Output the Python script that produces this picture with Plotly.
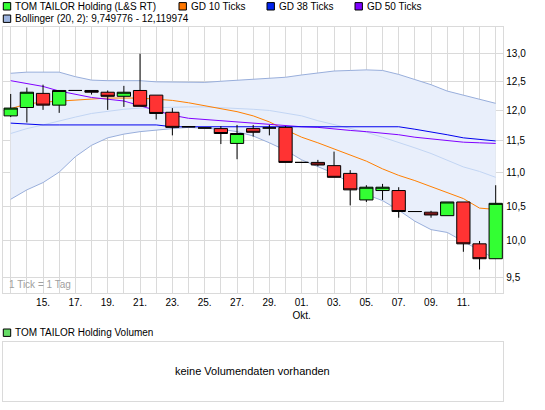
import math
import plotly.graph_objects as go

# trading days shown (1 tick = 1 day)
days = ["13.09", "14.09", "15.09", "16.09", "17.09", "18.09", "19.09", "20.09",
        "21.09", "22.09", "23.09", "24.09", "25.09", "26.09", "27.09", "28.09",
        "29.09", "30.09", "01.10", "02.10", "03.10", "04.10", "05.10", "06.10",
        "07.10", "08.10", "09.10", "10.10", "11.10", "12.10", "13.10"]
tick_labels = ["", "", "15.", "", "17.", "", "19.", "", "21.", "", "23.", "", "25.", "",
               "27.", "", "29.", "", "01.<br>Okt.", "", "03.", "", "05.", "", "07.", "",
               "09.", "", "11.", "", ""]

open_ = [11.91, 12.05, 12.29, 12.09, 12.34, 12.34, 12.31, 12.24, 12.34, 12.26, 11.97,
         11.73, 11.71, 11.70, 11.46, 11.70, 11.71, 11.72, 11.16, 11.16, 11.11, 10.99,
         10.59, 10.73, 10.73, 10.42, 10.41, 10.36, 10.56, 9.96, 9.755]
high = [12.28, 12.39, 12.44, 12.34, 12.34, 12.34, 12.34, 12.42, 12.99, 12.26, 12.04,
        11.73, 11.71, 11.74, 11.76, 11.76, 11.76, 11.74, 11.16, 11.20, 11.33, 11.04,
        10.81, 10.83, 10.78, 10.42, 10.43, 10.56, 10.56, 10.00, 10.81]
low = [11.89, 11.80, 12.01, 11.96, 12.34, 12.27, 12.01, 12.06, 12.07, 11.85, 11.59,
       11.73, 11.71, 11.45, 11.21, 11.57, 11.59, 11.16, 11.16, 11.10, 10.93, 10.51,
       10.56, 10.59, 10.33, 10.42, 10.33, 10.36, 9.85, 9.61, 9.755]
close = [12.04, 12.31, 12.09, 12.34, 12.34, 12.31, 12.24, 12.31, 12.07, 11.95, 11.72,
         11.73, 11.71, 11.62, 11.62, 11.64, 11.71, 11.16, 11.16, 11.12, 10.93, 10.74,
         10.78, 10.78, 10.42, 10.42, 10.37, 10.56, 9.96, 9.755, 10.54]

gd10 = [12.03, 12.11, 12.14, 12.16, 12.18, 12.19, 12.21, 12.21, 12.21, 12.19, 12.17,
        12.13, 12.08, 12.03, 11.98, 11.91, 11.81, 11.68, 11.56, 11.47, 11.37, 11.27,
        11.18, 11.06, 10.96, 10.88, 10.79, 10.71, 10.61, 10.47, 10.45]
gd38 = [11.79, 11.77, 11.76, 11.76, 11.76, 11.76, 11.76, 11.76, 11.76, 11.76, 11.73,
        11.73, 11.73, 11.73, 11.73, 11.73, 11.73, 11.73, 11.73, 11.73, 11.73, 11.73,
        11.73, 11.73, 11.73, 11.69, 11.65, 11.60, 11.55, 11.53, 11.50]
gd50 = [12.51, 12.46, 12.41, 12.33, 12.27, 12.22, 12.19, 12.16, 12.08, 12.00, 11.92,
        11.87, 11.85, 11.82, 11.81, 11.79, 11.77, 11.75, 11.73, 11.72, 11.69, 11.67,
        11.65, 11.63, 11.60, 11.56, 11.53, 11.50, 11.48, 11.47, 11.46]

boll_upper = [12.64, 12.66, 12.66, 12.66, 12.58, 12.52, 12.51, 12.51, 12.51, 12.49, 12.49,
              12.49, 12.48, 12.50, 12.52, 12.54, 12.55, 12.57, 12.61, 12.64, 12.68, 12.69,
              12.70, 12.69, 12.62, 12.53, 12.44, 12.33, 12.26, 12.20, 12.12]
boll_mid = [11.62, 11.70, 11.76, 11.83, 11.89, 11.95, 11.99, 12.02, 12.04, 12.05, 12.06,
            12.06, 12.06, 12.05, 12.04, 12.02, 12.00, 11.96, 11.91, 11.83, 11.77, 11.70,
            11.64, 11.56, 11.48, 11.39, 11.30, 11.20, 11.09, 11.02, 10.93]
boll_lower = [10.60, 10.74, 10.85, 11.01, 11.25, 11.43, 11.55, 11.61, 11.65, 11.68, 11.70,
              11.72, 11.71, 11.69, 11.65, 11.58, 11.47, 11.35, 11.20, 11.09, 10.99, 10.84,
              10.67, 10.58, 10.44, 10.28, 10.16, 10.12, 10.00, 9.87, 9.75]

y_ticks = [9.5, 10.0, 10.5, 11.0, 11.5, 12.0, 12.5, 13.0]
y_tick_text = ["9,5", "10,0", "10,5", "11,0", "11,5", "12,0", "12,5", "13,0"]

W, H = 545, 410
GRID = "#dadada"
FONT = "Liberation Sans, Arial, sans-serif"
X_RANGE = [-0.495, 30.47]
Y_RANGE = [math.log10(9.295), math.log10(13.49)]


def px(x):
    return x / W


def py(y):
    return 1 - y / H


fig = go.Figure()
fig.add_trace(go.Scatter(x=days, y=boll_upper, mode="lines", line=dict(color="#98aedb", width=1)))
fig.add_trace(go.Scatter(x=days, y=boll_lower, mode="lines", line=dict(color="#98aedb", width=1),
                         fill="tonexty", fillcolor="#e9effb"))
fig.add_trace(go.Scatter(x=days, y=boll_mid, mode="lines", line=dict(color="#c2d5f3", width=1)))
fig.add_trace(go.Scatter(x=days, y=gd10, mode="lines", line=dict(color="#ff7f00", width=1)))
fig.add_trace(go.Scatter(x=days, y=gd50, mode="lines", line=dict(color="#8000ff", width=1)))
fig.add_trace(go.Scatter(x=days, y=gd38, mode="lines", line=dict(color="#0000ee", width=1)))
# candles on an overlaid axis pair so they sit above the band fill and lines
fig.add_trace(go.Candlestick(
    x=days, open=open_, high=high, low=low, close=close, xaxis="x3", yaxis="y3",
    increasing=dict(fillcolor="#33ff33", line=dict(color="black", width=1)),
    decreasing=dict(fillcolor="#ff3333", line=dict(color="black", width=1)),
    whiskerwidth=0,
))
# empty volume panel
fig.add_trace(go.Scatter(x=[], y=[], xaxis="x2", yaxis="y2"))

fig.update_layout(
    width=W, height=H, margin=dict(l=0, r=0, t=0, b=0),
    paper_bgcolor="white", plot_bgcolor="white",
    font=dict(family=FONT, size=10, color="black"),
    showlegend=False, boxgap=0.18, boxgroupgap=0, hovermode=False,
    xaxis=dict(domain=[px(2.7), px(503.3)], anchor="y", type="category",
               categoryorder="array", categoryarray=days, range=X_RANGE,
               tickvals=days, ticktext=tick_labels, ticks="", showgrid=True,
               gridcolor=GRID, showline=True, mirror=True, linecolor=GRID,
               zeroline=False, automargin=False, rangeslider=dict(visible=False),
               tickfont=dict(size=10)),
    yaxis=dict(domain=[py(293.3), py(26.7)], anchor="x", type="log", side="right",
               range=Y_RANGE, tickvals=y_ticks, ticktext=y_tick_text, ticks="",
               showgrid=True, gridcolor=GRID, showline=True, mirror=True,
               linecolor=GRID, zeroline=False, automargin=False, tickfont=dict(size=10)),
    xaxis3=dict(overlaying="x", anchor="y3", type="category", categoryorder="array",
                categoryarray=days, range=X_RANGE, visible=False,
                rangeslider=dict(visible=False)),
    yaxis3=dict(overlaying="y", anchor="x3", type="log", range=Y_RANGE, visible=False),
    xaxis2=dict(domain=[px(2.7), px(503.3)], anchor="y2", range=[0, 1],
                showticklabels=False, showgrid=False, zeroline=False, ticks="",
                showline=True, mirror=True, linecolor=GRID),
    yaxis2=dict(domain=[py(400.7), py(341.7)], anchor="x2", range=[0, 1],
                showticklabels=False, showgrid=False, zeroline=False, ticks="",
                showline=True, mirror=True, linecolor=GRID),
)

# legend entries (square + text), drawn like the original header
legend_items = [
    (3.3, 6.3, "#33ff33", "TOM TAILOR Holding (L&S RT)"),
    (179.0, 6.3, "#ff7700", "GD 10 Ticks"),
    (267.0, 6.3, "#0022ee", "GD 38 Ticks"),
    (355.0, 6.3, "#7f00ff", "GD 50 Ticks"),
    (3.3, 18.7, "#9db4e0", "Bollinger (20, 2): 9,749776 - 12,119974"),
    (3.3, 332.7, "#66dd66", "TOM TAILOR Holding Volumen"),
]
for x0, yc, color, label in legend_items:
    fig.add_shape(type="rect", xref="paper", yref="paper",
                  x0=px(x0), x1=px(x0 + 7.4), y0=py(yc + 3.7), y1=py(yc - 3.7),
                  fillcolor=color, line=dict(color="black", width=1))
    fig.add_annotation(x=px(x0 + 9.5), y=py(yc), xref="paper", yref="paper",
                       text=label, showarrow=False, xanchor="left", yanchor="middle",
                       font=dict(size=10, family=FONT, color="black"))

fig.add_annotation(x=0, y=0, xref="x domain", yref="y domain", text="1 Tick = 1 Tag",
                   showarrow=False, xanchor="left", yanchor="bottom", xshift=4, yshift=1,
                   font=dict(size=10, family=FONT, color="#a0a0a0"))
fig.add_annotation(x=0.5, y=0.5, xref="x2 domain", yref="y2 domain",
                   text="keine Volumendaten vorhanden", showarrow=False,
                   font=dict(size=11, family=FONT, color="black"))

# the page's default 8px body margin would push the 545x410 chart off the window
fig.write_html("out.html", config={"displayModeBar": False},
               post_script="document.body.style.margin = '0';")
